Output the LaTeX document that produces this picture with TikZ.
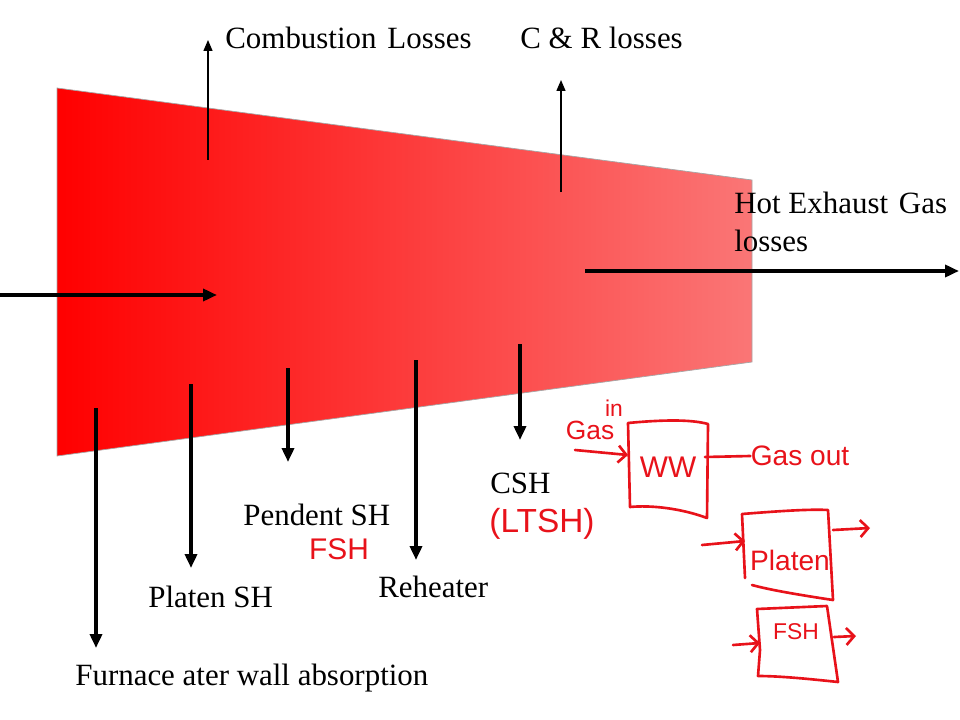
\documentclass[tikz,border=0pt]{standalone}
\usepackage{fontspec}
\setmainfont{Liberation Serif}
\newfontfamily\handfont{Liberation Sans}
\usetikzlibrary{arrows.meta,positioning}
\definecolor{FlameRed}{HTML}{FF0000}
\definecolor{FlamePale}{HTML}{FA7676}
\definecolor{InkRed}{HTML}{E8121A}

\begin{document}
\begin{tikzpicture}[x=0.2mm,y=-0.2mm,
  lbl/.style={anchor=base west,inner sep=0pt,font=\fontsize{17.6}{21.6}\selectfont},
  flow/.style={-{Triangle[length=2.8mm,width=2.4mm]},line width=2.2pt},
  loss/.style={-{Triangle[length=2.2mm,width=1.8mm]},line width=0.8pt},
  pen/.style={draw=InkRed,line width=1.5pt,line cap=round,line join=round},
  penarr/.style={pen,-{Straight Barb[length=1.6mm,width=3.4mm]}},
  note/.style={text=InkRed,inner sep=0pt,font=\handfont\fontsize{15}{15}\selectfont}
]
\useasboundingbox (0,0) rectangle (960,720);

% boiler gas path
\shadedraw[left color=FlameRed,right color=FlamePale,draw=black!35,line width=0.4pt]
  (57,88) -- (752,180) -- (752,362) -- (57,456) -- cycle;

% heat in and losses
\coordinate (fuelIn) at (0,295);
\coordinate (fuelTip) at (217,295);
\draw[flow] (fuelIn) -- (fuelTip);

\coordinate (combFrom) at (208,160);
\coordinate (combTo) at (208,40);
\draw[loss] (combFrom) -- (combTo);
\coordinate (crFrom) at (561,192);
\coordinate (crTo) at (561,80);
\draw[loss] (crFrom) -- (crTo);
\coordinate (exhFrom) at (585,271);
\coordinate (exhTo) at (959,271);
\draw[flow] (exhFrom) -- (exhTo);

% heat absorbed
\coordinate (wwFrom) at (96,408);
\coordinate (wwTo) at (96,648);
\draw[flow] (wwFrom) -- (wwTo);
\coordinate (platFrom) at (191,384);
\coordinate (platTo) at (191,568);
\draw[flow] (platFrom) -- (platTo);
\coordinate (pendFrom) at (288,368);
\coordinate (pendTo) at (288,462);
\draw[flow] (pendFrom) -- (pendTo);
\coordinate (rhFrom) at (416,360);
\coordinate (rhTo) at (416,560);
\draw[flow] (rhFrom) -- (rhTo);
\coordinate (cshFrom) at (520,344);
\coordinate (cshTo) at (520,440);
\draw[flow] (cshFrom) -- (cshTo);

% labels
\node[lbl] (combLbl) at (225,49) {Combustion\hspace{0.35em}Losses};
\node[lbl] (crLbl) at (520,49) {C \& R losses};
\node[lbl,align=left,anchor=north west] (exhLbl) at (734,192) {Hot Exhaust\hspace{0.35em}Gas\\losses};
\node[lbl] (wwLbl) at (75,685) {Furnace ater wall absorption};
\node[lbl] (platLbl) at (148,607) {Platen SH};
\node[lbl] (pendLbl) at (243,525) {Pendent SH};
\node[lbl] (rhLbl) at (378,597) {Reheater};
\node[lbl] (cshLbl) at (490,493) {CSH};

% hand notes
\node[note,font=\handfont\fontsize{17}{17}\selectfont] (fshNote) at (339,549) {FSH};
\node[note,font=\handfont\fontsize{19}{19}\selectfont] (ltshNote) at (542,524) {(LTSH)};

\draw[pen] (628,423) .. controls (660,420) and (690,419) .. (708,424)
  -- (707,518) .. controls (680,508) and (650,505) .. (630,507) -- cycle;
\node[note] (gasIn) at (590,430) {Gas};
\node[note,font=\handfont\fontsize{13}{13}\selectfont] (gasInSup) at (614,408) {in};
\node[note,font=\handfont\fontsize{17}{17}\selectfont] (wwBox) at (668,467) {WW};
\node[note,font=\handfont\fontsize{16}{16}\selectfont] (gasOut) at (800,456) {Gas out};
\coordinate (wwInFrom) at (575,450);
\coordinate (wwInTo) at (628,455);
\draw[penarr] (wwInFrom) -- (wwInTo);
\coordinate (wwOutFrom) at (705,457);
\draw[pen] (wwOutFrom) -- (gasOut.west);

\draw[pen] (745,578) -- (742,514) .. controls (780,511) and (810,509) .. (828,510)
  -- (833,600) .. controls (800,595) and (770,590) .. (752,585);
\node[note,font=\handfont\fontsize{16}{16}\selectfont] (platBox) at (790,560) {Platen};
\coordinate (platInFrom) at (702,545);
\coordinate (platInTo) at (745,541);
\draw[penarr] (platInFrom) -- (platInTo);
\coordinate (platOutFrom) at (833,530);
\coordinate (platOutTo) at (870,528);
\draw[penarr] (platOutFrom) -- (platOutTo);

\draw[pen] (757,609) -- (827,606) -- (838,682) .. controls (810,679) and (780,676) .. (758,676)
  -- (760,650) -- cycle;
\node[note,font=\handfont\fontsize{13}{13}\selectfont] (fshBox) at (796,632) {FSH};
\coordinate (fshInFrom) at (733,645);
\coordinate (fshInTo) at (760,643);
\draw[penarr] (fshInFrom) -- (fshInTo);
\coordinate (fshOutFrom) at (834,637);
\coordinate (fshOutTo) at (856,636);
\draw[penarr] (fshOutFrom) -- (fshOutTo);
\end{tikzpicture}
\end{document}
